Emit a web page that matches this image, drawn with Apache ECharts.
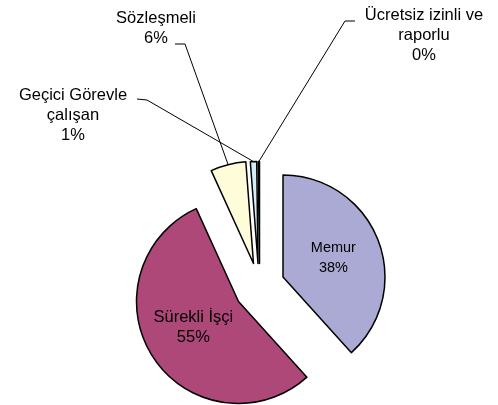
<!DOCTYPE html>
<html>
<head>
<meta charset="utf-8">
<script src="https://cdn.jsdelivr.net/npm/echarts@6/dist/echarts.min.js"></script>
<style>
  html, body { margin: 0; background: #fff; }
  #chart { width: 498px; height: 405px; }
</style>
</head>
<body>
<div id="chart"></div>
<script>
// personel dağılımı
const categories = ['Memur', 'Sürekli İşçi', 'Sözleşmeli', 'Geçici Görevle\nçalışan', 'Ücretsiz izinli ve\nraporlu'];
const values = [38.3, 54.9, 5.6, 1.0, 0.2];
const colors = ['#AAAAD4', '#AD4878', '#FFFCDA', '#D4EEF7', '#E8E8FF'];

// exploded slices: every slice has its own apex
const apex = [[283, 277], [238.5, 301.5], [253.5, 263.5], [258, 263.5], [259.5, 263.5]];
// outside labels (index -> label centre and leader bend)
const outsideLabels = {
  2: { x: 156, y: 28, line: [[185, 44], [175, 44]] },
  3: { x: 73, y: 115, line: [[147, 100], [137, 99]] },
  4: { x: 424, y: 35, line: [[345, 21], [355, 21]] }
};
const font = '"Liberation Sans", Arial, sans-serif';

const chart = echarts.init(document.getElementById('chart'));

function sliceSeries(k) {
  const out = outsideLabels[k];
  return {
    type: 'pie',
    silent: true,
    animation: false,
    radius: 102,
    center: apex[k],
    startAngle: 90,
    clockwise: true,
    avoidLabelOverlap: false,
    percentPrecision: 0,
    data: categories.map((name, i) => ({
      name,
      value: values[i],
      itemStyle: i === k
        ? { color: colors[i], borderColor: '#000', borderWidth: 1.5 }
        : { color: 'rgba(0,0,0,0)', borderWidth: 0 },
      label: { show: i === k },
      labelLine: { show: i === k && !!out }
    })),
    label: {
      position: out ? 'outside' : 'inside',
      formatter: '{b}\n{d}%',
      color: '#000',
      fontFamily: font,
      fontSize: k === 0 ? 14.5 : 16.5,
      lineHeight: 20,
      align: 'center'
    },
    labelLine: { lineStyle: { color: '#000', width: 1 }, smooth: false },
    labelLayout: out ? (p => {
      if (p.dataIndex !== k) return {};
      const pts = p.labelLinePoints;
      const res = { x: out.x, y: out.y, align: 'center', verticalAlign: 'middle' };
      if (pts) res.labelLinePoints = [[pts[0][0], pts[0][1]]].concat(out.line);
      return res;
    }) : (p => (p.dataIndex === 1 ? { dy: -4 } : {}))
  };
}

chart.setOption({
  backgroundColor: '#fff',
  series: categories.map((c, k) => sliceSeries(k))
});
</script>
</body>
</html>
